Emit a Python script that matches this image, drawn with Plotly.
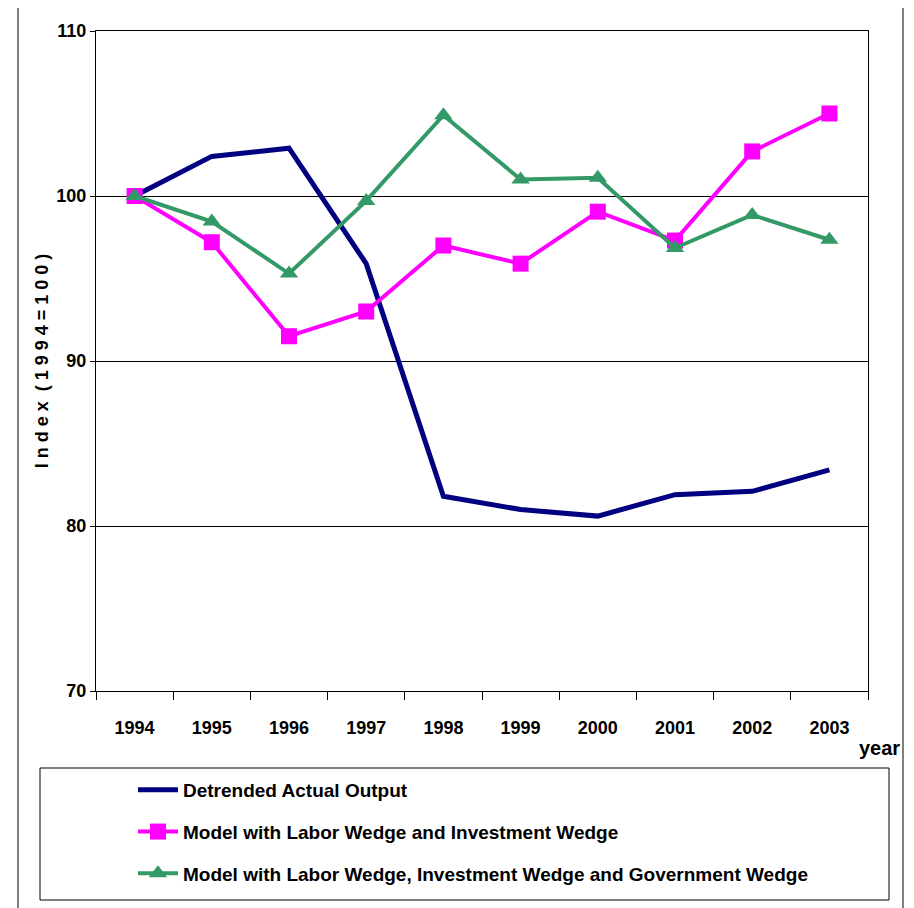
import plotly.graph_objects as go

years = ['1994', '1995', '1996', '1997', '1998', '1999', '2000', '2001', '2002', '2003']

actual_output = [100.0, 102.4, 102.9, 95.9, 81.8, 81.0, 80.6, 81.9, 82.1, 83.4]
labor_invest = [100.0, 97.2, 91.5, 93.0, 97.0, 95.9, 99.05, 97.3, 102.7, 105.0]
labor_invest_gov = [100.0, 98.45, 95.3, 99.7, 104.9, 101.0, 101.1, 96.85, 98.85, 97.35]

y_ticks = [70, 80, 90, 100, 110]

FONT = 'Liberation Sans Narrow, Arial Narrow, Liberation Sans, Arial'

# the page body adds an 8px margin, so work in screen pixels and shift
OFF = 8
W, H = 914 - OFF, 908 - OFF
L, R, T, B = 96 - OFF, 868 - OFF, 31 - OFF, 691 - OFF


def px_x(x):
    return (x - OFF - L) / (R - L)


def px_y(y):
    return (B - (y - OFF)) / (B - T)


fig = go.Figure()

fig.add_trace(go.Scatter(
    x=years, y=actual_output,
    mode='lines',
    name='Detrended Actual Output',
    line=dict(color='#000080', width=5),
    legendgroup='a'
))

fig.add_trace(go.Scatter(
    x=years, y=labor_invest,
    mode='lines+markers',
    name='Model with Labor Wedge and Investment Wedge',
    line=dict(color='#FF00FF', width=4),
    marker=dict(symbol='square', size=16, color='#FF00FF'),
    legendgroup='b'
))

fig.add_trace(go.Scatter(
    x=years, y=labor_invest_gov,
    mode='lines+markers',
    name='Model with Labor Wedge, Investment Wedge and Government Wedge',
    line=dict(color='#339966', width=4),
    marker=dict(symbol='triangle-up', size=16, color='#339966'),
    legendgroup='c'
))

fig.update_layout(
    width=W, height=H,
    margin=dict(l=L, r=W - R, t=T, b=H - B, autoexpand=False),
    paper_bgcolor='white',
    plot_bgcolor='white',
    font=dict(family=FONT, color='black'),
    showlegend=True,
    legend=dict(
        x=px_x(133), y=px_y(771),
        xanchor='left', yanchor='top',
        bgcolor='rgba(0,0,0,0)',
        font=dict(family=FONT, size=19, weight='bold'),
        tracegroupgap=14,
        itemwidth=40
    ),
    xaxis=dict(
        type='category',
        showgrid=False,
        showline=True, linecolor='black', linewidth=1,
        mirror=True,
        ticks='outside', tickson='boundaries', ticklen=8, tickcolor='black',
        ticklabelstandoff=20,
        tickfont=dict(family=FONT, size=18, weight='bold'),
        range=[-0.5, 9.5]
    ),
    yaxis=dict(
        range=[70, 110],
        tickvals=y_ticks,
        showgrid=True, gridcolor='black', gridwidth=1,
        showline=True, linecolor='black', linewidth=1,
        mirror=True,
        ticks='outside', ticklen=5, tickcolor='black',
        tickfont=dict(family=FONT, size=18, weight='bold'),
        zeroline=False,
        title=dict(text='I n d e x  ( 1 9 9 4 = 1 0 0 )',
                   font=dict(family='Liberation Sans, Arial', size=18, weight='bold'),
                   standoff=3)
    ),
    annotations=[
        dict(text='year', x=px_x(879), y=px_y(748), xref='paper', yref='paper',
             xanchor='center', yanchor='middle',
             showarrow=False, font=dict(family=FONT, size=20, weight='bold'))
    ],
    shapes=[
        # outer frame
        dict(type='rect', xref='paper', yref='paper',
             x0=px_x(18), x1=px_x(903), y0=px_y(920), y1=px_y(6),
             line=dict(color='black', width=1)),
        # legend frame
        dict(type='rect', xref='paper', yref='paper',
             x0=px_x(40), x1=px_x(889), y0=px_y(900), y1=px_y(768),
             line=dict(color='black', width=1))
    ]
)

fig.write_html("out.html")
